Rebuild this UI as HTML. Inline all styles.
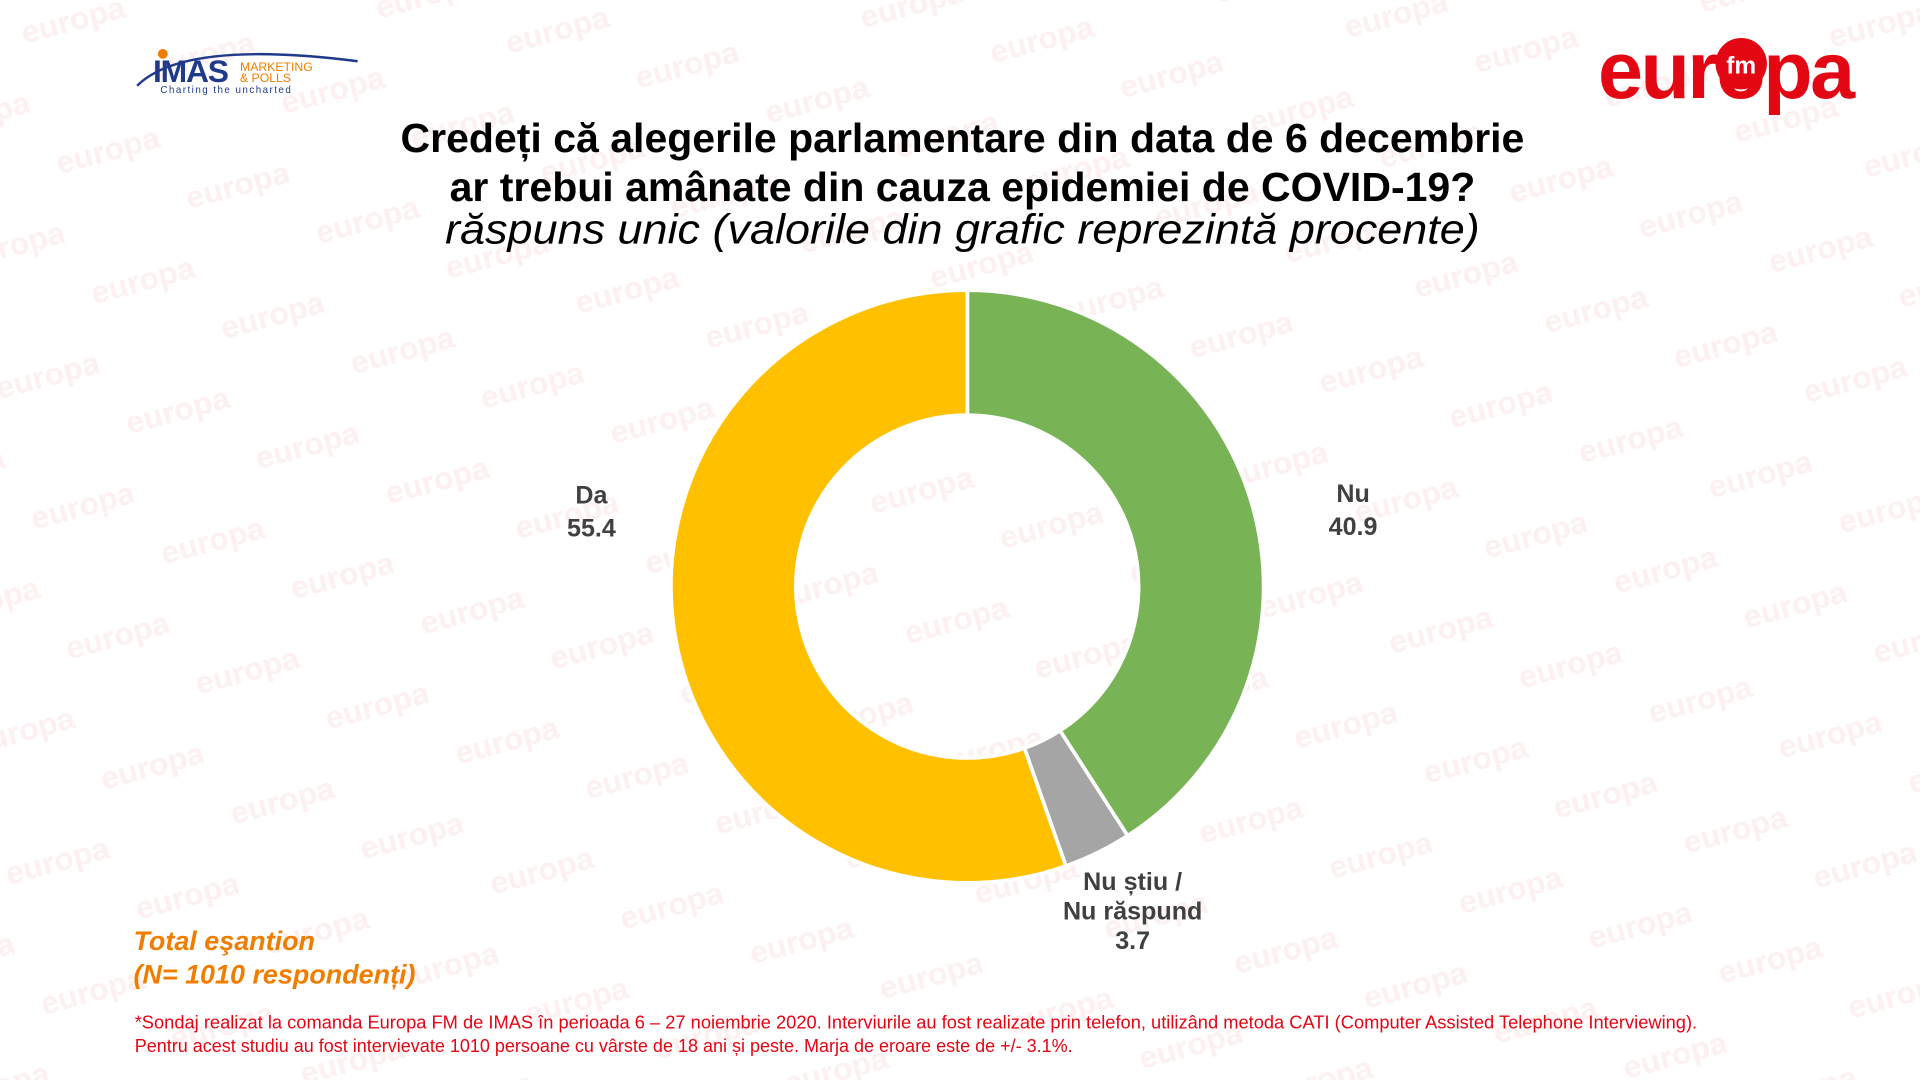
<!DOCTYPE html>
<html><head><meta charset="utf-8"><style>html,body{margin:0;padding:0;background:#fff;overflow:hidden}</style></head>
<body>
<svg width="1920" height="1080" viewBox="0 0 1568 882" preserveAspectRatio="none" xmlns="http://www.w3.org/2000/svg" font-family="Liberation Sans, sans-serif">
<defs>
<pattern id="wm" width="190" height="110" patternUnits="userSpaceOnUse" patternTransform="rotate(-15)">
<text x="10" y="40" font-size="26" font-weight="bold" fill="#fdf0f0">europa</text>
<text x="105" y="95" font-size="26" font-weight="bold" fill="#fdf0f0">europa</text>
</pattern>
</defs>
<rect width="1568" height="882" fill="#fff"/>
<rect width="1568" height="882" fill="url(#wm)"/>
<path d="M112,70 Q150,32 292,50" stroke="#1f3a8a" stroke-width="2" fill="none"/>
<circle cx="133" cy="44" r="4" fill="#f07d00"/>
<text x="125" y="67" font-size="26" fill="#1f3a8a" font-weight="bold" letter-spacing="-1">IMAS</text>
<text x="196" y="58" font-size="10" fill="#f07d00">MARKETING</text>
<text x="196" y="67" font-size="10" fill="#f07d00">&amp; POLLS</text>
<text x="131" y="76" font-size="8" fill="#1f3a8a" letter-spacing="1.2">Charting the uncharted</text>
<text x="1305" y="80" font-size="66" font-weight="bold" fill="#e30613" letter-spacing="-2">europa</text>
<circle cx="1422" cy="52" r="21" fill="#e30613"/>
<text x="1422" y="60" font-size="20" font-weight="bold" fill="#fff" text-anchor="middle">fm</text>
<g text-anchor="middle" fill="#000">
<text x="786" y="124" font-size="33.5" font-weight="bold">Credeți că alegerile parlamentare din data de 6 decembrie</text>
<text x="786" y="164" font-size="33.5" font-weight="bold">ar trebui amânate din cauza epidemiei de COVID-19?</text>
<text x="786" y="199" font-size="34" font-style="italic" textLength="845" lengthAdjust="spacingAndGlyphs">răspuns unic (valorile din grafic reprezintă procente)</text>
</g>
<g stroke="#fff" stroke-width="3">
<path d="M790,237 A242,242 0 0 1 920.9,682.5 L865.7,596.7 A140,140 0 0 0 790,339 Z" fill="#78b356"/>
<path d="M920.9,682.5 A242,242 0 0 1 870.5,707.2 L836.6,611 A140,140 0 0 0 865.7,596.7 Z" fill="#a5a5a5"/>
<path d="M870.5,707.2 A242,242 0 1 1 790,237 L790,339 A140,140 0 1 0 836.6,611 Z" fill="#ffc000"/>
</g>
<g font-size="20.5" font-weight="bold" fill="#404040" text-anchor="middle">
<text x="483" y="411">Da</text><text x="483" y="438">55.4</text>
<text x="1105" y="410">Nu</text><text x="1105" y="437">40.9</text>
<text x="925" y="727">Nu știu /</text><text x="925" y="751">Nu răspund</text><text x="925" y="775">3.7</text>
</g>
<g font-size="22" font-weight="bold" font-style="italic" fill="#f07d00">
<text x="109" y="776">Total eşantion</text>
<text x="109" y="803">(N= 1010 respondenți)</text>
</g>
<g font-size="15" fill="#e30613">
<text x="110" y="840" textLength="1276" lengthAdjust="spacingAndGlyphs">*Sondaj realizat la comanda Europa FM de IMAS în perioada  6 – 27 noiembrie 2020. Interviurile au fost realizate prin telefon, utilizând metoda CATI (Computer Assisted Telephone Interviewing).</text>
<text x="110" y="859" textLength="766" lengthAdjust="spacingAndGlyphs">Pentru acest studiu au fost intervievate 1010 persoane cu vârste de 18 ani și peste. Marja de eroare este de +/- 3.1%.</text>
</g>
</svg>
</body></html>
